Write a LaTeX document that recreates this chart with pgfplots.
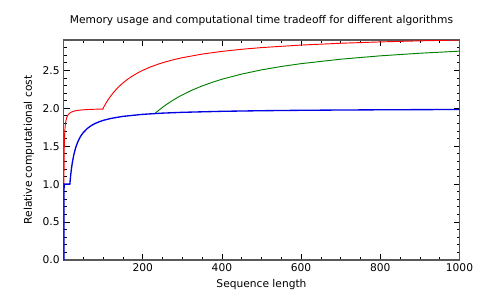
\documentclass[border=0pt]{standalone}
\usepackage{fontspec}
\setmainfont{DejaVu Sans}
\usepackage{pgfplots}
\pgfplotsset{compat=1.18}
\begin{document}
\fontsize{8pt}{10pt}\selectfont
\begin{tikzpicture}
\path[use as bounding box] (-47.625pt,-30pt) rectangle (327.375pt,195pt);
\begin{axis}[
  at={(0pt,0pt)}, anchor=south west,
  scale only axis, width=297pt, height=165pt,
  xmin=0, xmax=1000, ymin=0, ymax=2.9,
  xtick={200,400,600,800,1000},
  minor xtick={50,100,...,1000},
  ytick={0,0.5,1,1.5,2,2.5},
  minor ytick={0,0.1,...,2.9},
  tick align=inside,
  major tick length=4.5pt, minor tick length=2.25pt,
  xtick pos=both, ytick pos=both,
  tick style={black, line width=0.6pt},
  axis line style={gray!70!black, line width=1.1pt},
  /pgf/number format/assume math mode=true,
  /pgf/number format/1000 sep={},
  yticklabel style={/pgf/number format/fixed, /pgf/number format/fixed zerofill, /pgf/number format/precision=1},
  scaled y ticks=false,
  xticklabel style={font=\fontsize{8pt}{10pt}\selectfont},
  yticklabel style={font=\fontsize{8pt}{10pt}\selectfont},
  title={Memory usage and computational time tradeoff for different algorithms},
  title style={font=\fontsize{8pt}{10pt}\selectfont, yshift=2pt},
  xlabel={Sequence length},
  ylabel={Relative computational cost},
  ylabel style={yshift=1pt},
  label style={font=\fontsize{8pt}{10pt}\selectfont},
]
\addplot[red, line width=0.7pt] coordinates {
(1,1.0) (2,1.5) (3,1.6667) (4,1.75) (5,1.8) (6,1.8333) (8,1.875) (10,1.9) (12,1.9167) (15,1.9333) (20,1.95) (25,1.96) (30,1.9667) (40,1.975) (50,1.98) (60,1.9833) (80,1.9875) (100,1.99)
(100,2.0) (105,2.0476) (110,2.0909) (115,2.1304) (120,2.1667) (125,2.2) (130,2.2308) (135,2.2593) (140,2.2857) (145,2.3103) (150,2.3333) (160,2.375) (170,2.4118) (180,2.4444) (190,2.4737) (200,2.5) (220,2.5455) (240,2.5833) (260,2.6154) (280,2.6429) (300,2.6667) (350,2.7143) (400,2.75) (450,2.7778) (500,2.8) (600,2.8333) (700,2.8571) (800,2.875) (900,2.8889) (1000,2.9)
};
\addplot[green!50!black, line width=0.7pt] coordinates {
(231,1.9307) (235,1.9489) (240,1.9708) (250,2.012) (260,2.05) (275,2.1018) (290,2.1483) (300,2.1767) (325,2.24) (350,2.2943) (375,2.3413) (400,2.3825) (450,2.4511) (500,2.506) (550,2.5509) (600,2.5883) (700,2.6471) (800,2.6913) (900,2.7256) (1000,2.753)
};
\addplot[blue!90!black, line width=1pt] coordinates {
(1,0) (1.5,1) (16,1) (17,1.0588) (18,1.1111) (19,1.1579) (20,1.2) (21,1.2381) (22,1.2727) (23,1.3043) (25,1.36) (27,1.4074) (30,1.4667) (32,1.5) (35,1.5429) (37,1.5676) (40,1.6) (42,1.619) (45,1.6444) (50,1.68) (60,1.7333) (70,1.7714) (80,1.8) (90,1.8222) (100,1.84) (120,1.8667) (150,1.8933) (200,1.92) (250,1.936) (300,1.9467) (400,1.96) (500,1.968) (600,1.9733) (700,1.9771) (800,1.98) (900,1.9822) (1000,1.984)
};
\end{axis}
\end{tikzpicture}
\end{document}
